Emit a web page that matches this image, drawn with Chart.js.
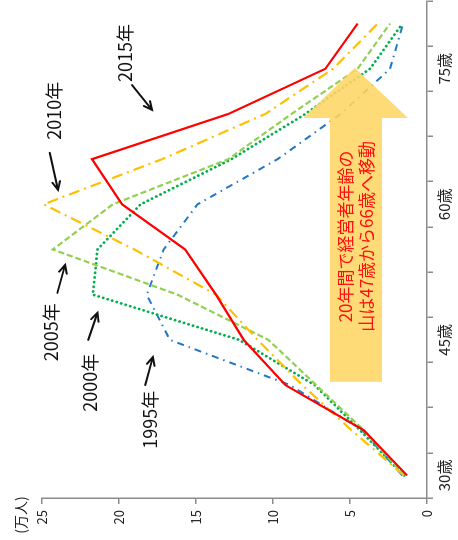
<!DOCTYPE html>
<html>
<head>
<meta charset="utf-8">
<script src="https://cdn.jsdelivr.net/npm/chart.js@4/dist/chart.umd.min.js"></script>
<style>
    html, body { margin: 0; padding: 0; background: #fff; overflow: hidden; }
    body { width: 458px; height: 540px; position: relative; }
    /* the chart is drawn upright and turned a quarter to the left */
    #wrap {
        position: absolute;
        left: -41px;
        top: 41px;
        width: 540px;
        height: 458px;
        transform: rotate(-90deg);
    }
</style>
</head>
<body>
<div id="wrap"><canvas id="age-chart" width="540" height="458"></canvas></div>
<script>
// age classes (only every third one is labelled)
const ageLabels = ['30歳', '', '', '45歳', '', '', '60歳', '', '', '75歳', ''];
const valueTicks = [0, 5, 10, 15, 20, 25];

// managers, 万人
const s2015 = [1.3, 4.1, 9.2, 11.9, 13.7, 15.7, 19.8, 21.75, 12.9, 6.6, 4.5];
const s2010 = [1.5, 4.9, 8.1, 11.0, 13.7, 19.0, 24.9, 17.2, 10.5, 6.1, 3.2];
const s2005 = [1.5, 4.1, 7.2, 10.3, 16.2, 24.3, 20.4, 12.9, 8.8, 4.5, 2.4];
const s2000 = [1.5, 4.35, 7.3, 12.2, 21.7, 21.4, 18.6, 12.7, 7.9, 3.7, 1.6];
const s1995 = [1.6, 4.2, 8.9, 16.7, 18.2, 17.1, 14.9, 9.7, 5.6, 2.4, 1.55];

// annotations, placed in data units (age index, value)
const yearNotes = [
    { text: '2015年', at: [9.35, 19.6], from: [8.64, 19.15], to: [8.09, 17.86] },
    { text: '2010年', at: [8.07, 24.2], from: [7.14, 24.5], to: [6.32, 23.96] },
    { text: '2005年', at: [3.17, 24.4], from: [4.04, 24.0], to: [4.66, 23.5] },
    { text: '2000年', at: [2.05, 21.9], from: [3.0, 22.0], to: [3.6, 21.4] },
    { text: '1995年', at: [1.23, 18.0], from: [2.0, 18.3], to: [2.62, 17.8] }
];
const bigArrow = {
    shaftFrom: 2.07, headAt: 7.91, tip: [9.02, 4.68],
    shaftHi: 6.3, shaftLo: 2.92, headHi: 8.05, headLo: 1.23
};
const arrowText = [
    { text: '20年間で経営者年齢の', at: [5.29, 5.3] },
    { text: '山は47歳から66歳へ移動', at: [5.29, 3.9] }
];

const FONT = "'Noto Sans CJK JP', 'Noto Sans', sans-serif";
const AXIS = '#8c8c8c';

const notesPlugin = {
    id: 'notes',
    afterDatasetsDraw(chart) {
        const ctx = chart.ctx;
        const xs = chart.scales.x;
        const ys = chart.scales.y;
        const px = (p) => [xs.getPixelForValue(p[0]), ys.getPixelForValue(p[1])];

        ctx.save();

        // yellow arrow
        const pts = [
            [bigArrow.shaftFrom, bigArrow.shaftHi],
            [bigArrow.headAt, bigArrow.shaftHi],
            [bigArrow.headAt, bigArrow.headHi],
            bigArrow.tip,
            [bigArrow.headAt, bigArrow.headLo],
            [bigArrow.headAt, bigArrow.shaftLo],
            [bigArrow.shaftFrom, bigArrow.shaftLo]
        ].map(px);
        ctx.beginPath();
        pts.forEach(([x, y], i) => i ? ctx.lineTo(x, y) : ctx.moveTo(x, y));
        ctx.closePath();
        ctx.fillStyle = 'rgba(255, 214, 100, 0.88)';
        ctx.fill();

        ctx.fillStyle = '#ff1010';
        ctx.font = `17px ${FONT}`;
        ctx.textAlign = 'center';
        ctx.textBaseline = 'middle';
        arrowText.forEach(t => {
            const [x, y] = px(t.at);
            ctx.fillText(t.text, x, y);
        });

        // year labels with small arrows
        ctx.font = `18px ${FONT}`;
        ctx.fillStyle = '#111';
        ctx.strokeStyle = '#111';
        ctx.lineWidth = 2;
        ctx.lineCap = 'round';
        yearNotes.forEach(n => {
            const [tx, ty] = px(n.at);
            ctx.fillText(n.text, tx, ty);

            const [x1, y1] = px(n.from);
            const [x2, y2] = px(n.to);
            const a = Math.atan2(y2 - y1, x2 - x1);
            ctx.beginPath();
            ctx.moveTo(x1, y1);
            ctx.lineTo(x2, y2);
            ctx.moveTo(x2 - 9 * Math.cos(a - 0.45), y2 - 9 * Math.sin(a - 0.45));
            ctx.lineTo(x2, y2);
            ctx.lineTo(x2 - 9 * Math.cos(a + 0.45), y2 - 9 * Math.sin(a + 0.45));
            ctx.stroke();
        });

        // unit
        ctx.font = `14px ${FONT}`;
        ctx.fillStyle = '#222';
        ctx.fillText('(万人)', chart.chartArea.left - 17, chart.chartArea.top - 21);

        ctx.restore();
    }
};

function line(label, data, color, dash, width) {
    return {
        label: label,
        data: data,
        borderColor: color,
        borderWidth: width || 2.2,
        borderDash: dash || [],
        borderCapStyle: 'butt',
        pointRadius: 0,
        fill: false,
        tension: 0
    };
}

const dots = line('2000年', s2000, '#00b050', [0.1, 4.6], 2.8);
dots.borderCapStyle = 'round';

new Chart(document.getElementById('age-chart'), {
    type: 'line',
    data: {
        labels: ageLabels,
        datasets: [
            line('2015年', s2015, '#ff0000', [], 2.2),
            line('2010年', s2010, '#ffc000', [11, 5, 2, 5]),
            line('2005年', s2005, '#92d050', [6, 3]),
            dots,
            line('1995年', s1995, '#1f77c8', [7, 5, 1.5, 5], 2)
        ]
    },
    options: {
        responsive: false,
        animation: false,
        devicePixelRatio: 1,
        layout: { padding: { top: 42, right: 1, left: 0, bottom: 0 } },
        plugins: {
            legend: { display: false },
            tooltip: { enabled: false }
        },
        scales: {
            x: {
                type: 'category',
                offset: true,
                afterFit: (s) => { s.height = 31; },
                grid: { offset: true, drawOnChartArea: false, tickLength: 6, color: AXIS, lineWidth: 1.5 },
                border: { color: AXIS, width: 1.5 },
                ticks: {
                    autoSkip: false,
                    maxRotation: 0,
                    padding: 2,
                    color: '#222',
                    font: { family: FONT, size: 15 }
                }
            },
            y: {
                min: valueTicks[0],
                max: valueTicks[valueTicks.length - 1],
                afterFit: (s) => { s.width = 42; },
                grid: { drawOnChartArea: false, tickLength: 6, color: AXIS, lineWidth: 1.5 },
                border: { color: AXIS, width: 1.5 },
                ticks: {
                    stepSize: valueTicks[1] - valueTicks[0],
                    padding: 6,
                    color: '#222',
                    font: { family: FONT, size: 13 }
                }
            }
        }
    },
    plugins: [notesPlugin]
});
</script>
</body>
</html>
